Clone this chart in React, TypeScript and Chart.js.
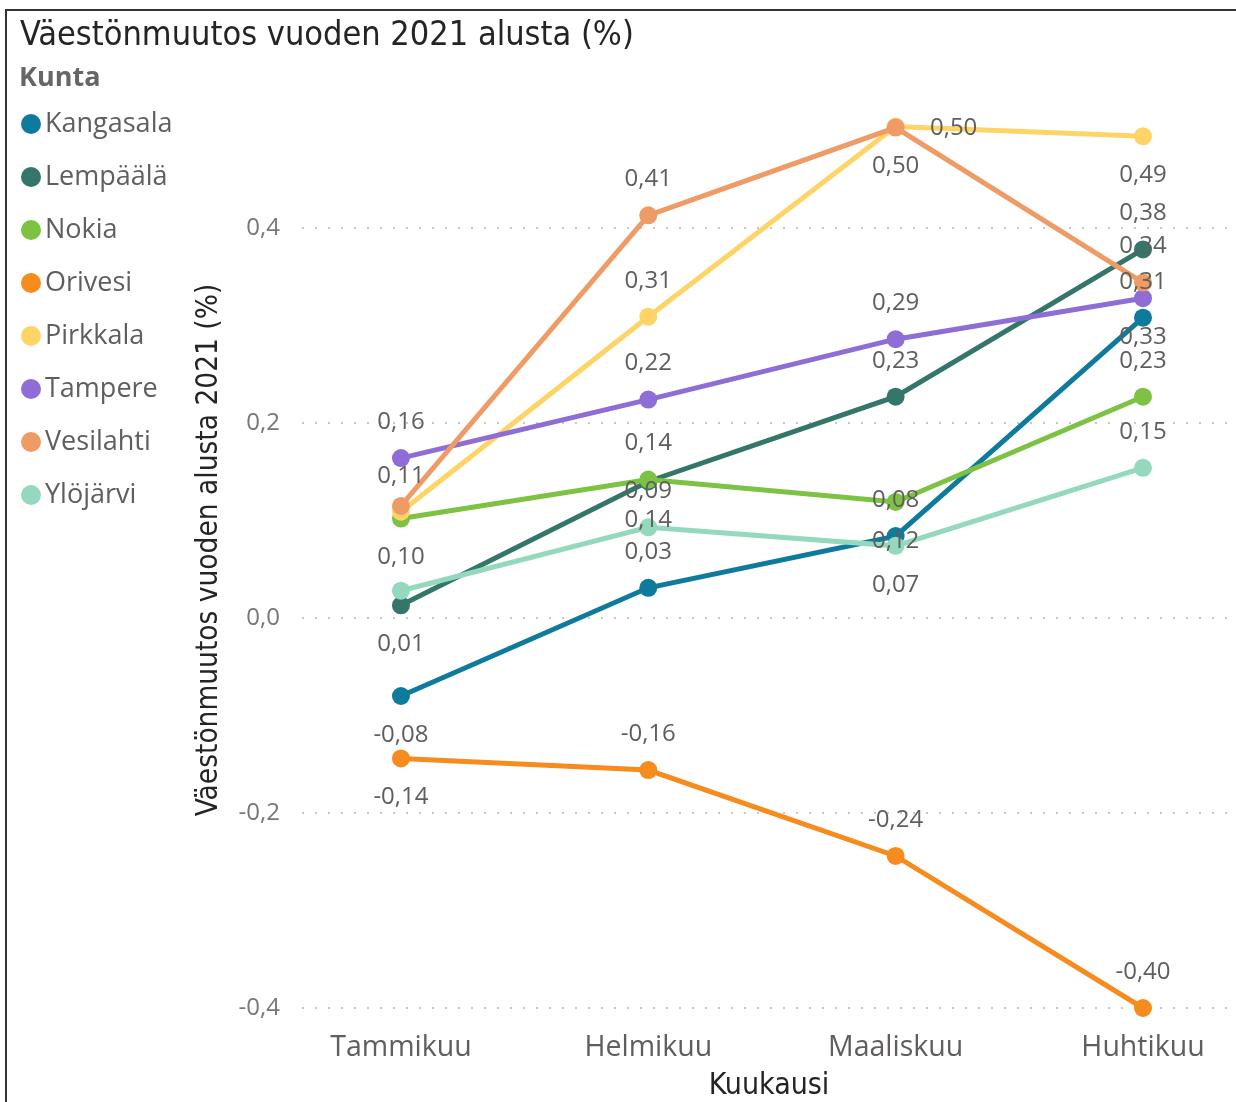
import { useEffect, useRef } from "react";
import { Chart, registerables } from "chart.js";

Chart.register(...registerables);

const months = ["Tammikuu", "Helmikuu", "Maaliskuu", "Huhtikuu"];
const municipalities = ["Kangasala", "Lempäälä", "Nokia", "Orivesi", "Pirkkala", "Tampere", "Vesilahti", "Ylöjärvi"];

const kangasala = [-0.08, 0.031, 0.084, 0.308];
const lempaala = [0.013, 0.14, 0.227, 0.378];
const nokia = [0.102, 0.142, 0.119, 0.227];
const orivesi = [-0.144, -0.156, -0.244, -0.4];
const pirkkala = [0.109, 0.309, 0.504, 0.494];
const tampere = [0.164, 0.224, 0.286, 0.328];
const vesilahti = [0.115, 0.413, 0.503, 0.344];
const ylojarvi = [0.028, 0.093, 0.074, 0.154];

const seriesValues = [kangasala, lempaala, nokia, orivesi, pirkkala, tampere, vesilahti, ylojarvi];

const yTicks = [-0.4, -0.2, 0, 0.2, 0.4];

const chartTitle = "Väestönmuutos vuoden 2021 alusta (%)";
const legendTitle = "Kunta";
const xTitle = "Kuukausi";
const yTitle = "Väestönmuutos vuoden alusta 2021 (%)";

// styling / layout (not data)
const colors = ["#0F7B9C", "#34776A", "#7DC242", "#F78C1E", "#FFD466", "#8E6ED6", "#EE9B65", "#94D9BE"];
// label placement per series per month: a = above, b = below, r = right, n = hidden
const labelPlacement = [
  ["b", "a", "a", "a"],
  ["b", "b", "a", "a"],
  ["b", "a", "b", "a"],
  ["b", "a", "a", "a"],
  ["a", "a", "r", "b"],
  ["a", "a", "a", "b"],
  ["n", "a", "b", "a"],
  ["n", "a", "b", "a"],
];

const SEGOE = "'Open Sans', 'Noto Sans', sans-serif";
const DIN = "'DejaVu Sans Condensed', Roboto, sans-serif";

const fmt2 = (v: number) => v.toFixed(2).replace(".", ",");
const fmt1 = (v: number) => (Math.abs(v) < 1e-9 ? 0 : v).toFixed(1).replace(".", ",");

const overlayPlugin = {
  id: "overlay",
  afterDatasetsDraw(chart: any) {
    const ctx = chart.ctx;
    ctx.save();
    ctx.fillStyle = "#605E5C";
    ctx.font = `24px ${SEGOE}`;
    ctx.textAlign = "center";
    ctx.textBaseline = "middle";
    chart.data.datasets.forEach((ds: any, i: number) => {
      const meta = chart.getDatasetMeta(i);
      meta.data.forEach((pt: any, j: number) => {
        const p = labelPlacement[i][j];
        if (p === "n") return;
        const v = seriesValues[i][j];
        let x = pt.x;
        let y = pt.y;
        if (p === "a") y -= 36;
        else if (p === "b") y += 39;
        else if (p === "r") { x += 58; y += 2; }
        ctx.fillText(fmt2(v), x, y);
      });
    });
    ctx.restore();
  },
  afterDraw(chart: any) {
    const ctx = chart.ctx;
    ctx.save();
    ctx.textBaseline = "middle";
    ctx.textAlign = "left";
    ctx.fillStyle = "#252423";
    ctx.font = `34px ${DIN}`;
    ctx.fillText(chartTitle, 20, 36);
    ctx.fillStyle = "#666666";
    ctx.font = `bold 27px ${SEGOE}`;
    ctx.fillText(legendTitle, 19, 78);
    ctx.font = `27px ${SEGOE}`;
    chart.data.datasets.forEach((ds: any, i: number) => {
      const cy = 124 + i * 53;
      ctx.fillStyle = ds.borderColor;
      ctx.beginPath();
      ctx.arc(31, cy, 10, 0, Math.PI * 2);
      ctx.fill();
      ctx.fillStyle = "#605E5C";
      ctx.fillText(ds.label, 45, cy);
    });
    ctx.restore();
  },
};

export default function App() {
  const ref = useRef<HTMLCanvasElement>(null);
  useEffect(() => {
    if (!ref.current) return;
    const datasets = municipalities.map((name, i) => ({
      label: name,
      data: seriesValues[i].map((v, j) => ({ x: j, y: v })),
      borderColor: colors[i],
      backgroundColor: colors[i],
      pointBackgroundColor: colors[i],
      pointBorderColor: colors[i],
      borderWidth: 5,
      pointRadius: 9,
      pointHoverRadius: 9,
      pointBorderWidth: 0,
      tension: 0,
      order: -i,
    }));
    const chart = new Chart(ref.current, {
      type: "line",
      data: { datasets },
      options: {
        responsive: false,
        animation: false,
        layout: { autoPadding: false, padding: { left: 180, top: 72.5, right: 0, bottom: 0 } },
        plugins: { legend: { display: false }, tooltip: { enabled: false } },
        scales: {
          x: {
            type: "linear",
            min: -0.4,
            max: 3.376,
            grid: { display: false, drawTicks: false },
            border: { display: false },
            ticks: {
              stepSize: 1,
              includeBounds: false,
              autoSkip: false,
              maxRotation: 0,
              padding: 3,
              color: "#605E5C",
              font: { family: SEGOE, size: 28.5 },
              callback: (v: any) => (Number.isInteger(v) && months[v] ? months[v] : ""),
            },
            title: {
              display: true,
              text: xTitle,
              color: "#252423",
              font: { family: DIN, size: 30 },
              padding: { top: 0, bottom: -2 },
            },
            afterFit: (s: any) => {
              s.height = 74.5;
              s.paddingLeft = 0;
              s.paddingRight = 0;
            },
          },
          y: {
            type: "linear",
            min: -0.42,
            max: 0.5595,
            afterBuildTicks: (s: any) => { s.ticks = yTicks.map((v) => ({ value: v })); },
            grid: { color: "#c8c8c8", lineWidth: 2, drawTicks: false },
            border: { display: false, dash: [2, 11] },
            ticks: {
              padding: 22,
              color: "#777777",
              font: { family: SEGOE, size: 24 },
              callback: (v: any) => fmt1(Number(v)),
            },
            title: {
              display: true,
              text: yTitle,
              color: "#252423",
              font: { family: DIN, size: 29.5 },
              padding: { top: 11.5, bottom: 0 },
            },
            afterFit: (s: any) => {
              s.width = 122;
              s.paddingTop = 0;
              s.paddingBottom = 0;
            },
          },
        },
      },
      plugins: [overlayPlugin],
    });
    return () => chart.destroy();
  }, []);

  return (
    <div style={{ position: "absolute", left: 0, top: 0, width: 1236, height: 1102, overflow: "hidden", background: "#fff" }}>
      <canvas ref={ref} width={1236} height={1102} style={{ position: "absolute", left: 0, top: 0 }} />
      <div style={{ position: "absolute", left: 5, top: 9, width: 1400, height: 1400, border: "2px solid #333", pointerEvents: "none" }} />
    </div>
  );
}
